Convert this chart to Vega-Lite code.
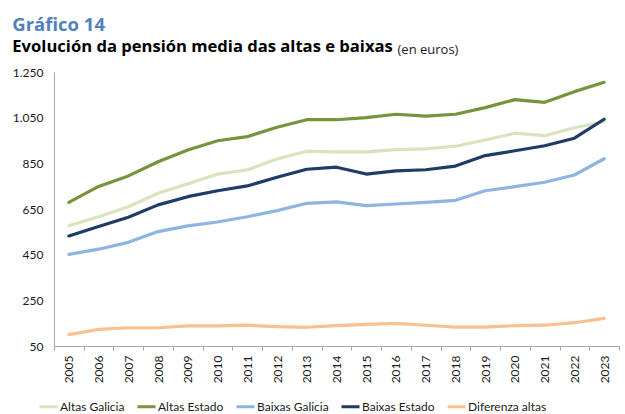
{
  "$schema": "https://vega.github.io/schema/vega-lite/v6.json",
  "width": 565,
  "height": 274,
  "autosize": {"type": "none"},
  "padding": {"left": 54, "top": 72, "right": 6, "bottom": 68},
  "background": "white",
  "config": {
    "font": "Lato",
    "view": {"stroke": null},
    "axis": {"labelFont": "Lato", "labelColor": "#1a1a1a", "labelFontSize": 12, "domainColor": "#a6a6a6", "tickColor": "#a6a6a6", "grid": false}
  },
  "title": {
    "text": "Gráfico 14",
    "subtitle": "Evolución da pensión media das altas e baixas",
    "anchor": "start",
    "frame": "bounds",
    "font": "Open Sans",
    "fontSize": 18.5,
    "fontWeight": "bold",
    "color": "#4f81bd",
    "subtitleFont": "Open Sans",
    "subtitleFontSize": 16.6,
    "subtitleFontWeight": "bold",
    "subtitleColor": "#000000",
    "subtitlePadding": 5,
    "offset": 0,
    "dy": 13
  },
  "data": {
    "values": [
      {"year": "2005", "serie": "Altas Galicia", "value": 577},
      {"year": "2006", "serie": "Altas Galicia", "value": 616},
      {"year": "2007", "serie": "Altas Galicia", "value": 660},
      {"year": "2008", "serie": "Altas Galicia", "value": 719},
      {"year": "2009", "serie": "Altas Galicia", "value": 760},
      {"year": "2010", "serie": "Altas Galicia", "value": 803},
      {"year": "2011", "serie": "Altas Galicia", "value": 821},
      {"year": "2012", "serie": "Altas Galicia", "value": 869},
      {"year": "2013", "serie": "Altas Galicia", "value": 903},
      {"year": "2014", "serie": "Altas Galicia", "value": 900},
      {"year": "2015", "serie": "Altas Galicia", "value": 900},
      {"year": "2016", "serie": "Altas Galicia", "value": 910},
      {"year": "2017", "serie": "Altas Galicia", "value": 913},
      {"year": "2018", "serie": "Altas Galicia", "value": 925},
      {"year": "2019", "serie": "Altas Galicia", "value": 952},
      {"year": "2020", "serie": "Altas Galicia", "value": 982},
      {"year": "2021", "serie": "Altas Galicia", "value": 971},
      {"year": "2022", "serie": "Altas Galicia", "value": 1006},
      {"year": "2023", "serie": "Altas Galicia", "value": 1032},
      {"year": "2005", "serie": "Altas Estado", "value": 679},
      {"year": "2006", "serie": "Altas Estado", "value": 749},
      {"year": "2007", "serie": "Altas Estado", "value": 795},
      {"year": "2008", "serie": "Altas Estado", "value": 857},
      {"year": "2009", "serie": "Altas Estado", "value": 908},
      {"year": "2010", "serie": "Altas Estado", "value": 949},
      {"year": "2011", "serie": "Altas Estado", "value": 967},
      {"year": "2012", "serie": "Altas Estado", "value": 1008},
      {"year": "2013", "serie": "Altas Estado", "value": 1041},
      {"year": "2014", "serie": "Altas Estado", "value": 1041},
      {"year": "2015", "serie": "Altas Estado", "value": 1050},
      {"year": "2016", "serie": "Altas Estado", "value": 1065},
      {"year": "2017", "serie": "Altas Estado", "value": 1057},
      {"year": "2018", "serie": "Altas Estado", "value": 1065},
      {"year": "2019", "serie": "Altas Estado", "value": 1094},
      {"year": "2020", "serie": "Altas Estado", "value": 1129},
      {"year": "2021", "serie": "Altas Estado", "value": 1117},
      {"year": "2022", "serie": "Altas Estado", "value": 1164},
      {"year": "2023", "serie": "Altas Estado", "value": 1205},
      {"year": "2005", "serie": "Baixas Galicia", "value": 451},
      {"year": "2006", "serie": "Baixas Galicia", "value": 474},
      {"year": "2007", "serie": "Baixas Galicia", "value": 504},
      {"year": "2008", "serie": "Baixas Galicia", "value": 551},
      {"year": "2009", "serie": "Baixas Galicia", "value": 576},
      {"year": "2010", "serie": "Baixas Galicia", "value": 593},
      {"year": "2011", "serie": "Baixas Galicia", "value": 616},
      {"year": "2012", "serie": "Baixas Galicia", "value": 643},
      {"year": "2013", "serie": "Baixas Galicia", "value": 675},
      {"year": "2014", "serie": "Baixas Galicia", "value": 681},
      {"year": "2015", "serie": "Baixas Galicia", "value": 665},
      {"year": "2016", "serie": "Baixas Galicia", "value": 672},
      {"year": "2017", "serie": "Baixas Galicia", "value": 679},
      {"year": "2018", "serie": "Baixas Galicia", "value": 688},
      {"year": "2019", "serie": "Baixas Galicia", "value": 730},
      {"year": "2020", "serie": "Baixas Galicia", "value": 748},
      {"year": "2021", "serie": "Baixas Galicia", "value": 767},
      {"year": "2022", "serie": "Baixas Galicia", "value": 799},
      {"year": "2023", "serie": "Baixas Galicia", "value": 870},
      {"year": "2005", "serie": "Baixas Estado", "value": 532},
      {"year": "2006", "serie": "Baixas Estado", "value": 573},
      {"year": "2007", "serie": "Baixas Estado", "value": 614},
      {"year": "2008", "serie": "Baixas Estado", "value": 668},
      {"year": "2009", "serie": "Baixas Estado", "value": 704},
      {"year": "2010", "serie": "Baixas Estado", "value": 730},
      {"year": "2011", "serie": "Baixas Estado", "value": 751},
      {"year": "2012", "serie": "Baixas Estado", "value": 789},
      {"year": "2013", "serie": "Baixas Estado", "value": 824},
      {"year": "2014", "serie": "Baixas Estado", "value": 833},
      {"year": "2015", "serie": "Baixas Estado", "value": 803},
      {"year": "2016", "serie": "Baixas Estado", "value": 817},
      {"year": "2017", "serie": "Baixas Estado", "value": 822},
      {"year": "2018", "serie": "Baixas Estado", "value": 838},
      {"year": "2019", "serie": "Baixas Estado", "value": 884},
      {"year": "2020", "serie": "Baixas Estado", "value": 905},
      {"year": "2021", "serie": "Baixas Estado", "value": 927},
      {"year": "2022", "serie": "Baixas Estado", "value": 960},
      {"year": "2023", "serie": "Baixas Estado", "value": 1043},
      {"year": "2005", "serie": "Diferenza altas", "value": 100},
      {"year": "2006", "serie": "Diferenza altas", "value": 123},
      {"year": "2007", "serie": "Diferenza altas", "value": 130},
      {"year": "2008", "serie": "Diferenza altas", "value": 130},
      {"year": "2009", "serie": "Diferenza altas", "value": 138},
      {"year": "2010", "serie": "Diferenza altas", "value": 138},
      {"year": "2011", "serie": "Diferenza altas", "value": 141},
      {"year": "2012", "serie": "Diferenza altas", "value": 135},
      {"year": "2013", "serie": "Diferenza altas", "value": 132},
      {"year": "2014", "serie": "Diferenza altas", "value": 139},
      {"year": "2015", "serie": "Diferenza altas", "value": 145},
      {"year": "2016", "serie": "Diferenza altas", "value": 149},
      {"year": "2017", "serie": "Diferenza altas", "value": 141},
      {"year": "2018", "serie": "Diferenza altas", "value": 133},
      {"year": "2019", "serie": "Diferenza altas", "value": 133},
      {"year": "2020", "serie": "Diferenza altas", "value": 139},
      {"year": "2021", "serie": "Diferenza altas", "value": 141},
      {"year": "2022", "serie": "Diferenza altas", "value": 152},
      {"year": "2023", "serie": "Diferenza altas", "value": 171}
    ]
  },
  "mark": {"type": "line", "strokeWidth": 3.2, "strokeJoin": "round", "strokeCap": "round"},
  "encoding": {
    "x": {
      "field": "year",
      "type": "ordinal",
      "bandPosition": 0.5,
      "scale": {"type": "band", "paddingInner": 0, "paddingOuter": 0},
      "axis": {
        "title": null,
        "labelAngle": -90,
        "labelAlign": "right",
        "labelBaseline": "middle",
        "labelPadding": 5,
        "tickBand": "extent",
        "tickSize": 4,
        "domainWidth": 1
      }
    },
    "y": {
      "field": "value",
      "type": "quantitative",
      "scale": {"domain": [50, 1250], "nice": false, "zero": false},
      "axis": {
        "values": [50, 250, 450, 650, 850, 1050, 1250],
        "labelExpr": "replace(format(datum.value, ','), ',', '.')",
        "ticks": false,
        "labelPadding": 11,
        "title": "(en euros)",
        "titleAngle": 0,
        "titleAlign": "left",
        "titleBaseline": "alphabetic",
        "titleX": 343,
        "titleY": -19,
        "titleFont": "Open Sans",
        "titleFontSize": 13,
        "titleFontWeight": "normal",
        "titleColor": "#1a1a1a"
      }
    },
    "color": {
      "field": "serie",
      "type": "nominal",
      "scale": {
        "domain": ["Altas Galicia", "Altas Estado", "Baixas Galicia", "Baixas Estado", "Diferenza altas"],
        "range": ["#d7e4bd", "#77933c", "#8eb4e3", "#1f3b66", "#fac090"]
      },
      "legend": {
        "title": null,
        "orient": "none",
        "direction": "horizontal",
        "legendX": -16,
        "legendY": 324,
        "symbolType": "stroke",
        "symbolSize": 324,
        "symbolStrokeWidth": 3,
        "labelFont": "Lato",
        "labelFontSize": 12,
        "labelColor": "#1a1a1a",
        "labelOffset": 1,
        "columnPadding": 6
      }
    }
  }
}
